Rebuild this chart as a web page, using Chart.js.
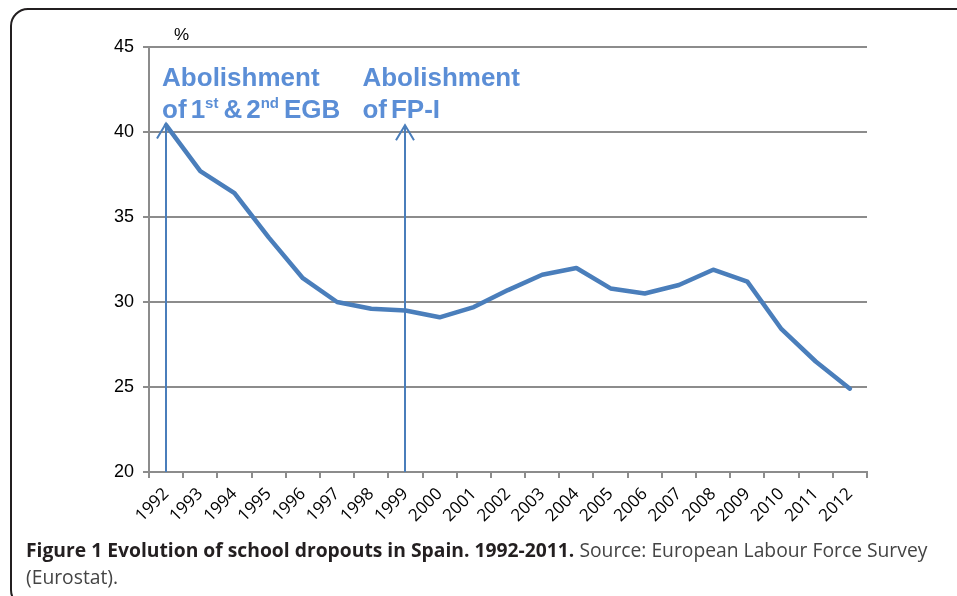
<!DOCTYPE html>
<html><head><meta charset="utf-8">
<script src="https://cdn.jsdelivr.net/npm/chart.js@4/dist/chart.umd.min.js"></script>
<style>
html,body{margin:0;padding:0;background:#fff;overflow:hidden;width:957px;height:596px;}
#frame{position:absolute;left:10px;top:8px;width:1000px;height:600px;border:2px solid #231f20;border-radius:18px;box-sizing:border-box;}
#c{position:absolute;left:0;top:0;}
#cap{position:absolute;left:26px;top:536px;font-family:"Open Sans";font-size:19.3px;line-height:27px;color:#444;white-space:nowrap;}
#cap b{color:#231f20;font-weight:700;}
</style></head><body>
<div id="frame"></div>
<canvas id="c" width="957" height="596"></canvas>
<div id="cap"><b>Figure 1 Evolution of school dropouts in Spain. 1992-2011.</b> Source: European Labour Force Survey<br>(Eurostat).</div>
<script>
const years = ['1992','1993','1994','1995','1996','1997','1998','1999','2000','2001','2002','2003','2004','2005','2006','2007','2008','2009','2010','2011','2012'];
const dropoutRate = [40.4,37.7,36.4,33.8,31.4,30.0,29.6,29.5,29.1,29.7,30.7,31.6,32.0,30.8,30.5,31.0,31.9,31.2,28.4,26.5,24.9];
const yTicks = [20,25,30,35,40,45];
const arrowYears = ['1992','1999'];
const arrowTopValues = [40.5,40.4];
const annotationTexts = [
  [[{t:'Abolishment'}],[{t:'of 1'},{t:'st',sup:true},{t:' & 2'},{t:'nd',sup:true},{t:' EGB'}]],
  [[{t:'Abolishment'}],[{t:'of FP-I'}]]
];
const unitLabel = '%';

const BLUE = '#4a7ebb';
const TEXTBLUE = '#5b8ed6';
const GRID = '#8c8c8c';

const arrowsPlugin = {
  id:'arrows',
  beforeDatasetsDraw(chart){
    const {ctx, scales:{x,y}, chartArea:ca} = chart;
    ctx.save();
    ctx.strokeStyle = BLUE; ctx.lineWidth = 2;
    arrowYears.forEach((yr,i)=>{
      const px = Math.round(x.getPixelForValue(years.indexOf(yr)));
      const top = y.getPixelForValue(arrowTopValues[i]);
      ctx.beginPath(); ctx.moveTo(px, ca.bottom); ctx.lineTo(px, top); ctx.stroke();
      ctx.beginPath(); ctx.moveTo(px-9, top+15); ctx.lineTo(px, top); ctx.lineTo(px+9, top+15); ctx.stroke();
    });
    ctx.restore();
  },
  afterDraw(chart){
    const {ctx, scales:{x,y}, chartArea:ca} = chart;
    ctx.save();
    ctx.fillStyle = '#000';
    ctx.font = '17px "Liberation Sans", Arial';
    ctx.textAlign = 'left'; ctx.textBaseline = 'alphabetic';
    ctx.fillText(unitLabel, ca.left + 25, ca.top - 7);
    ctx.strokeStyle = GRID; ctx.lineWidth = 2;
    ctx.beginPath(); ctx.moveTo(ca.right, ca.bottom); ctx.lineTo(ca.right, ca.bottom+6); ctx.stroke();
    const offs = [-4, -43];
    ctx.fillStyle = TEXTBLUE;
    arrowYears.forEach((yr,i)=>{
      const px = x.getPixelForValue(years.indexOf(yr)) + offs[i];
      annotationTexts[i].forEach((line,li)=>{
        let cx = px;
        const base = ca.top + 39 + li*32;
        line.forEach(seg=>{
          ctx.font = seg.sup ? 'bold 15px "Liberation Sans", Arial' : 'bold 26px "Liberation Sans", Arial';
          const parts = seg.t.split(' ');
          parts.forEach((p,pi)=>{
            if (pi>0) cx += 4;
            ctx.fillText(p, cx, seg.sup ? base - 10 : base);
            cx += ctx.measureText(p).width;
          });
          if (seg.sup) cx += 1;
        });
      });
    });
    ctx.restore();
  }
};

new Chart(document.getElementById('c'), {
  type:'line',
  data:{labels:years, datasets:[{data:dropoutRate, borderColor:BLUE, borderWidth:4.5, pointRadius:0, tension:0, borderJoinStyle:'round', borderCapStyle:'round', fill:false}]},
  options:{
    responsive:false, animation:false,
    layout:{padding:{left:0,right:90,top:47,bottom:0}},
    plugins:{legend:{display:false}, tooltip:{enabled:false}},
    scales:{
      x:{
        offset:true,
        grid:{offset:true, drawOnChartArea:false, drawTicks:true, tickLength:6, color:GRID, lineWidth:2},
        border:{color:GRID, width:2},
        ticks:{minRotation:45, maxRotation:45, color:'#000', font:{family:'"Open Sans"', size:17}, padding:6, autoSkip:false},
        afterFit(s){ s.height = 124; }
      },
      y:{
        min:yTicks[0], max:yTicks[yTicks.length-1],
        afterBuildTicks(s){ s.ticks = yTicks.map(v=>({value:v})); },
        grid:{color:GRID, lineWidth:2, tickLength:6},
        border:{color:GRID, width:2},
        ticks:{color:'#000', font:{family:'"Liberation Sans", Arial', size:18}, padding:9},
        afterFit(s){ s.width = 149; }
      }
    }
  },
  plugins:[arrowsPlugin]
});
</script>
</body></html>
